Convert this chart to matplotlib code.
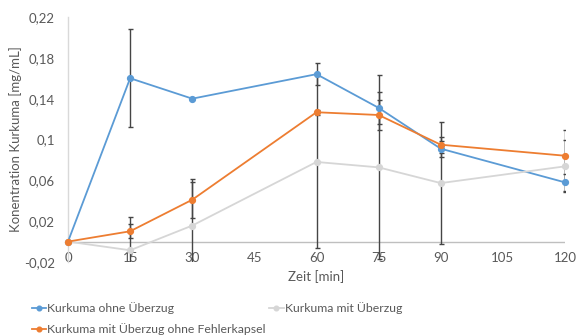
import matplotlib
matplotlib.use("Agg")
import matplotlib.pyplot as plt

plt.rcParams['font.family'] = ['Lato', 'DejaVu Sans']

time = [0, 15, 30, 60, 75, 90, 120]
blue = [0, 0.160, 0.140, 0.164, 0.131, 0.091, 0.058]
blue_err = [0, 0.048, 0, 0.011, 0.016, 0.008, 0.0085]
gray = [0, -0.0085, 0.0157, 0.078, 0.0727, 0.0573, 0.0737]
gray_err = [0, 0.0325, 0.046, 0.084, 0.09, 0.06, 0.0255]
orange = [0, 0.0101, 0.041, 0.1267, 0.124, 0.0949, 0.0841]
orange_err = [0, 0.007, 0.0175, 0.0025, 0.0145, 0.008, 0.025]

labels = ["Kurkuma ohne Überzug", "Kurkuma mit Überzug",
          "Kurkuma mit Überzug ohne Fehlerkapsel"]
yticks = [-0.02, 0.02, 0.06, 0.1, 0.14, 0.18, 0.22]
ytick_labels = ["-0,02", "0,02", "0,06", "0,1", "0,14", "0,18", "0,22"]
xticks = [0, 15, 30, 45, 60, 75, 90, 105, 120]

C_BLUE = "#5B9BD5"
C_GRAY = "#D6D6D6"
C_ORANGE = "#ED7D31"
C_ERR = "#454545"
C_TXT = "#595959"

fig = plt.figure(figsize=(5.76, 3.36), dpi=100)
ax = fig.add_axes([68/576, 1-262/336, (565-68)/576, (262-17)/336])

handles = {}
for y, e, c, lab in [(blue, blue_err, C_BLUE, labels[0]),
                     (gray, gray_err, C_GRAY, labels[1]),
                     (orange, orange_err, C_ORANGE, labels[2])]:
    ax.errorbar(time, y, yerr=e, fmt='none', ecolor=C_ERR, elinewidth=1.0,
                capsize=1.8, capthick=1.0, zorder=2)
    h, = ax.plot(time, y, color=c, lw=1.3, marker='o', ms=4.2, mec=c, mfc=c,
                 clip_on=False, zorder=3)
    handles[lab] = h

ax.set_xlim(0, 120)
ax.set_ylim(-0.02, 0.22)
ax.set_yticks(yticks)
ax.set_yticklabels(ytick_labels)
ax.set_xticks(xticks)
ax.set_xticklabels([str(t) for t in xticks])
ax.axhline(0, color="#BFBFBF", lw=1.0, zorder=1)

for s in ['top', 'right', 'bottom']:
    ax.spines[s].set_visible(False)
ax.spines['left'].set_color("#D9D9D9")
ax.spines['left'].set_linewidth(1.0)

ax.tick_params(axis='both', length=0, colors=C_TXT, labelsize=9.5)
ax.tick_params(axis='y', pad=9.5)
ax.tick_params(axis='x', pad=-7)

ax.set_xlabel("Zeit [min]", fontsize=9.5, color=C_TXT, labelpad=4)
ax.set_ylabel("Konentration Kurkuma [mg/mL]", fontsize=9.5, color=C_TXT, labelpad=1)

order = [labels[0], labels[2], labels[1]]
fig.legend([handles[l] for l in order], order, loc='upper left',
           bbox_to_anchor=(32/576, 1-302/336), ncol=2, frameon=False,
           fontsize=8.8, labelcolor=C_TXT, handlelength=1.15,
           handletextpad=0.1, columnspacing=0.3, labelspacing=0.75,
           borderpad=0, borderaxespad=0, markerscale=0.8)

fig.savefig("out.png", dpi=100)
